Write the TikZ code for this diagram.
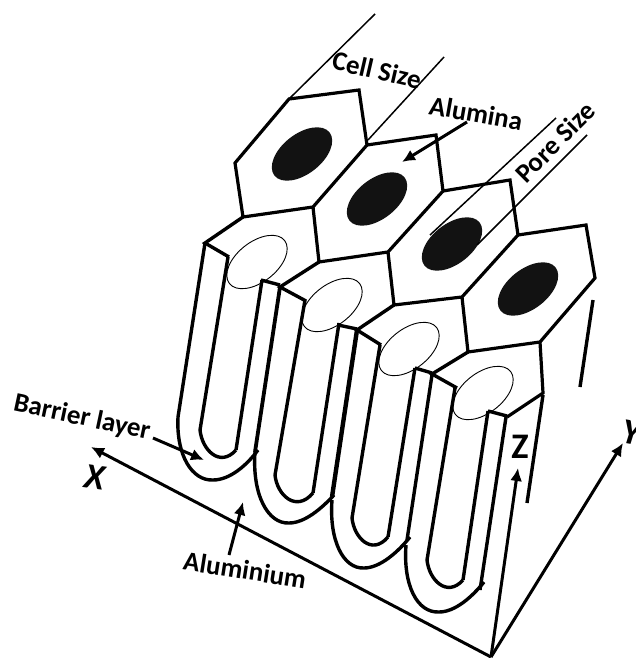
\documentclass[tikz,border=0pt]{standalone}
\usepackage{fontspec}
\setmainfont{Carlito}
\usetikzlibrary{arrows.meta}
\tikzset{
  hexline/.style={line width=3.2pt,line join=miter},
  wall/.style={line width=3.4pt},
  dimline/.style={line width=1.5pt},
  axis/.style={line width=3pt,->},
  pore/.style={fill=black!93},
  openpore/.style={draw=black,line width=0.9pt},
  lab/.style={font=\fontsize{27}{30}\selectfont\bfseries,inner sep=0pt},
  axlab/.style={font=\fontsize{36}{40}\selectfont\bfseries\itshape,inner sep=0pt}
}
\begin{document}
\begin{tikzpicture}[x=1pt,y=-1pt,>={Latex[length=13pt,width=12pt]}]
  \useasboundingbox (0,0) rectangle (636,658);
  % hexagon corners
  \coordinate (a1) at (289,99);
  \coordinate (a2) at (359,90);
  \coordinate (a3) at (367,145);
  \coordinate (a4) at (313,207);
  \coordinate (a5) at (243,217);
  \coordinate (a6) at (235,163);
  \coordinate (b2) at (436,135);
  \coordinate (b3) at (443,191);
  \coordinate (b4) at (388,252);
  \coordinate (b5) at (319,262);
  \coordinate (c2) at (510,180);
  \coordinate (c3) at (518,235);
  \coordinate (c4) at (462,297);
  \coordinate (c5) at (394,305);
  \coordinate (d2) at (586,225);
  \coordinate (d3) at (595,278);
  \coordinate (d4) at (540,342);
  \coordinate (d5) at (468,352);
  \coordinate (d6) at (543,393);
  % pores
  \foreach \px/\py in {302/154,377/199,452/244,528/289}
    \fill[pore,rotate around={38:(\px,\py)}] (\px,\py) ellipse [x radius=35,y radius=20];
  \foreach \px/\py in {257/262,332/305,409/349,483/393}
    \draw[openpore,rotate around={38:(\px,\py)}] (\px,\py) ellipse [x radius=35,y radius=20];
  % hexagons
  \draw[hexline] (a5) -- (a6) -- (a1) -- (a2) -- (a3) -- (a4) -- cycle;
  \draw[hexline] (a3) -- (b2) -- (b3) -- (b4) -- (b5) -- (a4);
  \draw[hexline] (b3) -- (c2) -- (c3) -- (c4) -- (c5) -- (b4);
  \draw[hexline] (c3) -- (d2) -- (d3) -- (d4) -- (d5) -- (c4);
  \draw[hexline] (d4) -- (d6) -- (507,417);
  % tube mouths
  \draw[wall] (a5) -- (205,243) -- (229,257);
  \draw[wall] (b5) -- (280,287) -- (306,301);
  \draw[wall] (c5) -- (357,330) -- (381,345);
  \draw[wall] (d5) -- (432,374) -- (457,388);
  \draw[wall] (261,280) -- (280,285);
  \draw[wall] (338,325) -- (357,329);
  \draw[wall] (415,368) -- (432,373);
  \draw[wall] (488,411) -- (507,416);
  % tube walls
  \draw[wall] (205,243) -- (178,417);
  \draw[wall] (228,257) -- (200,430);
  \draw[wall] (262,280) -- (236,450);
  \draw[wall,line width=3.8pt] (280,287) -- (255,452);
  \draw[wall] (305,300) -- (275,475);
  \draw[wall] (339,323) -- (313,493);
  \draw[wall,line width=4.4pt] (357,330) -- (332,497);
  \draw[wall] (380,345) -- (352,518);
  \draw[wall] (415,368) -- (388,537);
  \draw[wall] (432,375) -- (407,540);
  \draw[wall] (455,388) -- (427,560);
  \draw[wall] (488,411) -- (463,580);
  \draw[wall] (506,417) -- (480,590);
  \draw[wall] (543,395) -- (527,503);
  \draw[wall] (593,300) -- (580,387);
  % tube bottoms
  \draw[wall] (200,430) .. controls (202,450) and (220,468) .. (236,450);
  \draw[wall] (178,417) .. controls (176,455) and (192,481) .. (213,480) .. controls (230,480) and (247,465) .. (258,450);
  \draw[wall] (275,475) .. controls (277,495) and (296,513) .. (313,493);
  \draw[wall] (255,452) .. controls (252,495) and (268,524) .. (289,523) .. controls (305,523) and (322,508) .. (334,495);
  \draw[wall] (352,518) .. controls (354,538) and (372,556) .. (388,537);
  \draw[wall] (332,500) .. controls (329,540) and (343,569) .. (364,568) .. controls (380,568) and (398,552) .. (410,537);
  \draw[wall] (427,560) .. controls (429,580) and (447,598) .. (463,580);
  \draw[wall] (406,545) .. controls (403,585) and (417,613) .. (439,612) .. controls (455,612) and (472,597) .. (484,582);
  % size marks
  \draw[dimline] (a1) -- (375,14);
  \draw[dimline] (368,140) -- (444,57);
  \draw[dimline] (430,235) -- (556,118);
  \draw[dimline] (477,245) -- (587,135);
  % labels
  \node[lab,rotate=-13] (cell) at (377,70) {Cell Size};
  \node[lab,rotate=-10] (alumina) at (476,113) {Alumina};
  \node[lab,rotate=45] (pore) at (555,142) {Pore Size};
  \node[lab,rotate=-12] (barrier) at (82,418) {Barrier layer};
  \node[lab,rotate=-9] (metal) at (245,570) {Aluminium};
  \node[axlab,rotate=-8] (xlab) at (95,477) {X};
  \node[axlab,rotate=-10] (ylab) at (632,433) {Y};
  \node[axlab,font=\fontsize{36}{40}\selectfont\bfseries] (zlab) at (520,447) {Z};
  % pointers
  \coordinate (aluend) at (402,162);
  \coordinate (aluout) at (467,122);
  \coordinate (barend) at (204,460);
  \coordinate (barout) at (153,438);
  \coordinate (metend) at (243,502);
  \coordinate (metout) at (229,555);
  \draw[axis] (aluout) -- (aluend);
  \draw[axis] (barout) -- (barend);
  \draw[axis] (metout) -- (metend);
  % axes
  \coordinate (orig) at (491,657);
  \coordinate (xend) at (91,447);
  \coordinate (yend) at (623,443);
  \coordinate (zend) at (518,468);
  \draw[axis] (orig) -- (xend);
  \draw[axis] (orig) -- (yend);
  \draw[axis] (orig) -- (zend);
\end{tikzpicture}
\end{document}
